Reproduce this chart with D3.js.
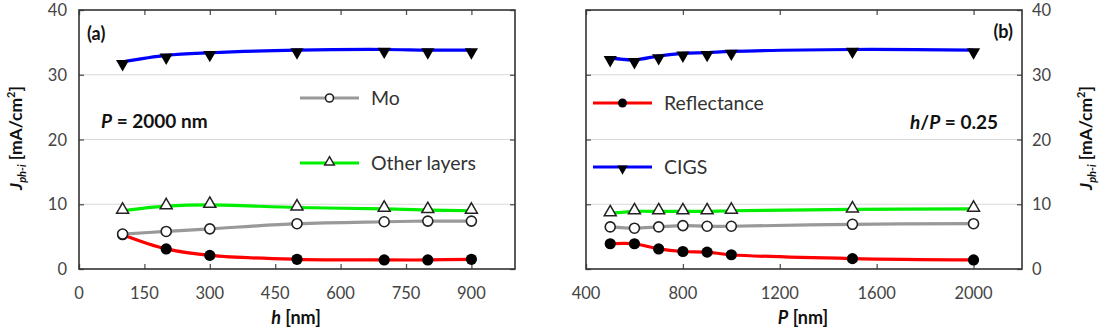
<!DOCTYPE html>
<html><head><meta charset="utf-8">
<script src="https://cdn.jsdelivr.net/npm/d3@7"></script>
<style>
body{margin:0;background:#fff;}
svg{display:block;font-family:Lato,"Open Sans",sans-serif;}
</style></head>
<body><svg id="c" width="1108" height="330"></svg>
<script>
// ---- data ----
const hVals = [100, 200, 300, 500, 700, 800, 900];
const hCIGS = [32.0, 33.0, 33.4, 33.8, 33.9, 33.8, 33.8];
const hOther = [9.0, 9.7, 9.9, 9.5, 9.3, 9.1, 9.0];
const hMo = [5.4, 5.8, 6.2, 7.0, 7.3, 7.4, 7.4];
const hRefl = [5.3, 3.1, 2.1, 1.5, 1.4, 1.4, 1.5];

const pVals = [500, 600, 700, 800, 900, 1000, 1500, 2000];
const pCIGS = [32.6, 32.3, 32.9, 33.3, 33.4, 33.6, 33.9, 33.8];
const pOther = [8.6, 8.9, 8.9, 8.9, 8.9, 9.0, 9.2, 9.3];
const pMo = [6.5, 6.3, 6.5, 6.7, 6.6, 6.6, 6.9, 7.0];
const pRefl = [3.9, 3.9, 3.1, 2.7, 2.6, 2.2, 1.6, 1.4];

const hTicks = [0, 150, 300, 450, 600, 750, 900];
const pTicks = [400, 800, 1200, 1600, 2000];
const yTicks = [0, 10, 20, 30, 40];

const svg = d3.select("#c");
const colors = {refl:"#ff0000", cigs:"#0000ff", mo:"#999999", other:"#00ee00"};

function panel(opts){
  const x = d3.scaleLinear().domain(opts.xDomain).range([opts.x0, opts.x1]);
  const y = d3.scaleLinear().domain([0,40]).range([269, 10]);
  const g = svg.append("g");
  g.selectAll(".grid").data(yTicks.filter(d=>d>0&&d<40)).enter().append("line")
    .attr("x1", opts.x0).attr("x2", opts.x1).attr("y1", d=>y(d)).attr("y2", d=>y(d))
    .attr("stroke", "#d9d9d9").attr("stroke-width", 1.2);
  const tickStyle = s => s.call(a=>a.select(".domain").remove())
      .call(a=>a.selectAll(".tick line").attr("stroke","#555").attr("stroke-width",1.3))
      .call(a=>a.selectAll("text").remove());
  g.append("g").attr("transform",`translate(0,${y(0)})`)
    .call(d3.axisBottom(x).tickValues(opts.xTicks).tickSize(-5)).call(tickStyle);
  g.append("g").attr("transform",`translate(0,${y(40)})`)
    .call(d3.axisTop(x).tickValues(opts.xTicks).tickSize(-5)).call(tickStyle);
  g.append("g").attr("transform",`translate(${opts.x1},0)`)
    .call(d3.axisRight(y).tickValues(yTicks).tickSize(-5)).call(tickStyle);
  g.append("g").attr("transform",`translate(${opts.x0},0)`)
    .call(d3.axisLeft(y).tickValues(yTicks).tickSize(-5)).call(tickStyle);
  g.append("rect").attr("x",opts.x0).attr("y",y(40)).attr("width",opts.x1-opts.x0).attr("height",y(0)-y(40))
    .attr("fill","none").attr("stroke","#333").attr("stroke-width",1.6);
  g.selectAll(".xl").data(opts.xTicks).enter().append("text")
    .attr("x", d=>x(d)).attr("y", 299).attr("text-anchor","middle")
    .attr("font-size",16.5).attr("fill","#444").text(d=>d);
  g.selectAll(".yl").data(yTicks).enter().append("text")
    .attr("x", opts.yLabelSide==="left" ? opts.x0-12 : opts.x1+10)
    .attr("y", d=>y(d)+6).attr("text-anchor", opts.yLabelSide==="left"?"end":"start")
    .attr("font-size",16.5).attr("fill","#444").text(d=>d);

  const line = d3.line().x(d=>x(d[0])).y(d=>y(d[1])).curve(d3.curveCatmullRom.alpha(0.5));
  const zip = (xs, ys) => xs.map((v,i)=>[v, ys[i]]);
  const series = [
    {k:"refl", ys:opts.refl, m:"dot"},
    {k:"cigs", ys:opts.cigs, m:"down"},
    {k:"mo", ys:opts.mo, m:"circle"},
    {k:"other", ys:opts.other, m:"up"}
  ];
  series.forEach(s=>{
    g.append("path").attr("d", line(zip(opts.xs, s.ys))).attr("fill","none")
      .attr("stroke", colors[s.k]).attr("stroke-width",3.2);
  });
  series.forEach(s=>{
    drawMarkers(g, zip(opts.xs, s.ys).map(p=>[x(p[0]), y(p[1])]), s.m, 1);
  });
  return {x, y, g};
}

function drawMarkers(g, pts, m, scale){
  pts.forEach(([px,py])=>{
    if(m==="dot"){
      g.append("circle").attr("cx",px).attr("cy",py).attr("r",5.6*scale).attr("fill","#000");
    } else if(m==="circle"){
      g.append("circle").attr("cx",px).attr("cy",py).attr("r",5*scale).attr("fill","#fff")
        .attr("stroke","#222").attr("stroke-width",1.6);
    } else if(m==="down"){
      g.append("path").attr("d", d3.symbol(d3.symbolTriangle, 75*scale*scale)())
        .attr("transform",`translate(${px},${py+2*scale}) rotate(180)`).attr("fill","#000");
    } else if(m==="up"){
      g.append("path").attr("d", d3.symbol(d3.symbolTriangle, 62*scale*scale)())
        .attr("transform",`translate(${px},${py-1*scale})`).attr("fill","#fff")
        .attr("stroke","#222").attr("stroke-width",1.5);
    }
  });
}

function legend(g, x0, x1, yy, color, m, label){
  g.append("line").attr("x1",x0).attr("x2",x1).attr("y1",yy).attr("y2",yy)
    .attr("stroke",color).attr("stroke-width",3.2);
  drawMarkers(g, [[(x0+x1)/2, yy]], m, 0.8);
  g.append("text").attr("x", x1+12).attr("y", yy+7).attr("font-size",19.5).attr("fill","#333").text(label);
}

const A = panel({xDomain:[0,1000], x0:79, x1:515, xTicks:hTicks, yLabelSide:"left",
  xs:hVals, cigs:hCIGS, other:hOther, mo:hMo, refl:hRefl});
const B = panel({xDomain:[400,2200], x0:586, x1:1022, xTicks:pTicks, yLabelSide:"right",
  xs:pVals, cigs:pCIGS, other:pOther, mo:pMo, refl:pRefl});

legend(A.g, 300, 359, 98, colors.mo, "circle", "Mo");
legend(A.g, 300, 359, 163, colors.other, "up", "Other layers");
legend(B.g, 593, 652, 103, colors.refl, "dot", "Reflectance");
legend(B.g, 593, 652, 167, colors.cigs, "down", "CIGS");

svg.append("text").attr("x",87).attr("y",40).attr("font-size",18).attr("font-weight","bold").attr("fill","#111").text("(a)");
svg.append("text").attr("x",1013).attr("y",38).attr("text-anchor","end").attr("font-size",18).attr("font-weight","bold").attr("fill","#111").text("(b)");

const pa = svg.append("text").attr("x",101).attr("y",128).attr("font-size",19).attr("font-weight","bold").attr("fill","#111");
pa.append("tspan").attr("font-style","italic").text("P");
pa.append("tspan").text(" = 2000 nm");

const pb = svg.append("text").attr("x",998).attr("y",129).attr("text-anchor","end").attr("font-size",19).attr("font-weight","bold").attr("fill","#111");
pb.append("tspan").attr("font-style","italic").text("h");
pb.append("tspan").text("/");
pb.append("tspan").attr("font-style","italic").text("P");
pb.append("tspan").text(" = 0.25");

function yTitle(cx, cy){
  const t = svg.append("text").attr("transform",`translate(${cx},${cy}) rotate(-90)`)
    .attr("text-anchor","middle").attr("font-size",17.5).attr("font-weight","bold").attr("fill","#111");
  t.append("tspan").attr("font-style","italic").text("J");
  t.append("tspan").attr("font-style","italic").attr("font-size",11).attr("dy",4).text("ph-i");
  t.append("tspan").attr("dy",-4).text(" [mA/cm");
  t.append("tspan").attr("font-size",11).attr("dy",-7).text("2");
  t.append("tspan").attr("dy",7).text("]");
}
yTitle(22, 138);
yTitle(1092, 138);

function xTitle(cx, v){
  const t = svg.append("text").attr("x",cx).attr("y",324).attr("text-anchor","middle")
    .attr("font-size",18).attr("font-weight","bold").attr("fill","#111");
  t.append("tspan").attr("font-style","italic").text(v);
  t.append("tspan").text(" [nm]");
}
xTitle(296, "h");
xTitle(803, "P");
</script></body></html>
